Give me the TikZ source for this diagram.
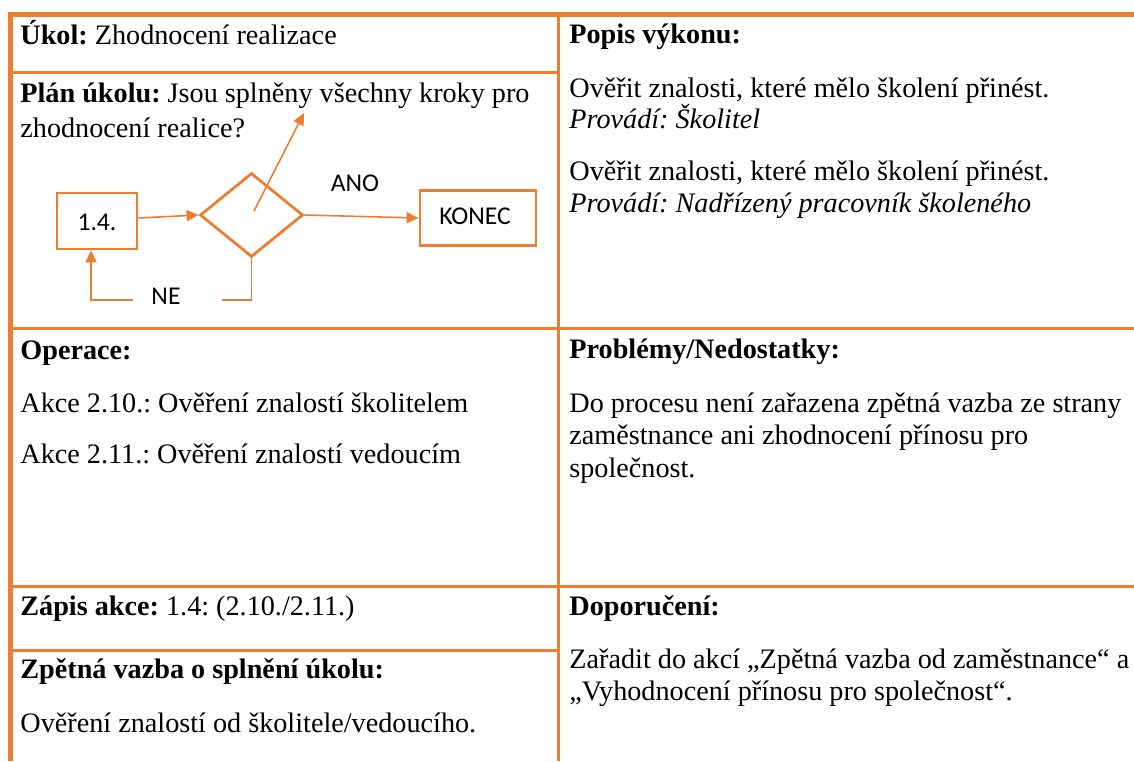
\documentclass[tikz,border=0pt]{standalone}
\usepackage{fontspec}
\setmainfont{Liberation Serif}
\newfontfamily\calfont{Carlito}
\usetikzlibrary{shapes.geometric,arrows.meta}
\definecolor{ora}{RGB}{237,125,49}
\frenchspacing
\begin{document}
\begin{tikzpicture}[x=0.5pt,y=-0.5pt,
  txt/.style={anchor=base west,inner sep=0pt,font=\fontsize{14.1}{17}\selectfont},
  frame/.style={draw=ora,line width=2.5pt},
  rule/.style={draw=ora,line width=1.5pt},
  fbox/.style={draw=ora,line width=1.4pt,inner sep=0pt,font=\calfont\fontsize{12.8}{15}\selectfont},
  flab/.style={inner sep=0pt,font=\calfont\fontsize{12.8}{15}\selectfont},
  conn/.style={draw=ora,line width=0.8pt},
  arr/.style={conn,-{Triangle[length=6pt,width=5.5pt]}}]
\useasboundingbox (0,0) rectangle (1134,761);
\fill[white] (0,0) rectangle (1134,761);

% table grid
\draw[rule] (10,72) -- (558,72);
\draw[rule] (10,328) -- (1134,328);
\draw[rule] (10,586) -- (1134,586);
\draw[rule] (10,650) -- (558,650);
\draw[rule] (558,14) -- (558,761);
\draw[frame] (8,14.5) -- (1134,14.5);
\draw[frame] (10.5,12) -- (10.5,761);

% left column texts
\node[txt] (ukol) at (20,44) {\textbf{Úkol:} Zhodnocení realizace};
\node[txt] (plan1) at (20,102) {\textbf{Plán úkolu:} Jsou splněny všechny kroky pro};
\node[txt] (plan2) at (20,137) {zhodnocení realice?};
\node[txt] (oper) at (20,359) {\textbf{Operace:}};
\node[txt] (akce1) at (20,412) {Akce 2.10.: Ověření znalostí školitelem};
\node[txt] (akce2) at (20,463) {Akce 2.11.: Ověření znalostí vedoucím};
\node[txt] (zapis) at (20,615) {\textbf{Zápis akce:} 1.4: (2.10./2.11.)};
\node[txt] (zpet) at (20,678) {\textbf{Zpětná vazba o splnění úkolu:}};
\node[txt] (over) at (20,732) {Ověření znalostí od školitele/vedoucího.};

% right column texts
\node[txt] (popis) at (569,43) {\textbf{Popis výkonu:}};
\node[txt] (p1) at (569,97) {Ověřit znalosti, které mělo školení přinést.};
\node[txt] (p2) at (569,128) {\textit{Provádí: Školitel}};
\node[txt] (p3) at (569,180) {Ověřit znalosti, které mělo školení přinést.};
\node[txt] (p4) at (569,212) {\textit{Provádí: Nadřízený pracovník školeného}};
\node[txt] (prob) at (569,358) {\textbf{Problémy/Nedostatky:}};
\node[txt] (d1) at (569,412) {Do procesu není zařazena zpětná vazba ze strany};
\node[txt] (d2) at (569,444) {zaměstnance ani zhodnocení přínosu pro};
\node[txt] (d3) at (569,477) {společnost.};
\node[txt] (dop) at (569,615) {\textbf{Doporučení:}};
\node[txt] (z1) at (569,668) {Zařadit do akcí „Zpětná vazba od zaměstnance“ a};
\node[txt] (z2) at (569,700) {„Vyhodnocení přínosu pro společnost“.};

% flowchart
\node[fbox,minimum width=40pt,minimum height=28pt] (box14) at (97,221) {};
\node[flab] (box14txt) at (97,222) {1.4.};
\node[draw=ora,line width=1.4pt,shape=diamond,inner sep=0pt,
      minimum width=51.5pt,minimum height=42pt] (dec) at (251.5,215) {};
\node[fbox,minimum width=58pt,minimum height=27.5pt] (konec) at (478,218) {};
\node[flab] (konectxt) at (475,216) {KONEC};
\node[flab] (ano) at (355,183) {ANO};
\node[flab] (ne) at (166,296) {NE};

\coordinate (q) at (254,211);
\coordinate (qtip) at (304,113);
\coordinate (neR) at (222,300);
\coordinate (neL) at (133,300);
\coordinate (loopC) at (91,300);

\draw[arr] ([yshift=1.5pt]box14.east) -- (dec.west);
\draw[arr] (dec.east) -- (konec.west);
\draw[arr] (q) -- (qtip);
\draw[conn] (dec.south) |- (neR);
\draw[arr] (neL) -- (loopC) -- (loopC |- box14.south);
\end{tikzpicture}
\end{document}
